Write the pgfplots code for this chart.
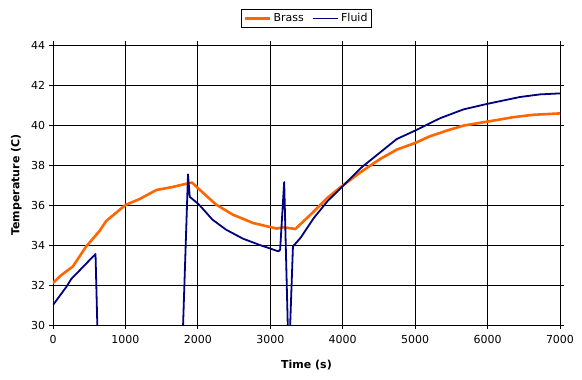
\documentclass[border=0pt]{standalone}
\usepackage{pgfplots}
\pgfplotsset{compat=1.18}
\usepackage{fontspec}
\setmainfont{DejaVu Sans}
\definecolor{brass}{RGB}{255,102,0}
\definecolor{fluid}{RGB}{0,0,128}
\begin{document}
\fontsize{11bp}{13bp}\selectfont
\begin{tikzpicture}
\path[use as bounding box] (-53bp,-55bp) rectangle (529bp,325bp);
\begin{axis}[
 at={(0,0)}, anchor=south west,
 scale only axis, width=507bp, height=280bp,
 xmin=0,xmax=7000,ymin=30,ymax=44,
 xtick={0,1000,...,7000}, ytick={30,32,...,44},
 grid=major, major grid style={black, line width=0.8bp},
 axis line style={black,line width=0.8bp},
 tick style={black, line width=0.8bp}, tick align=outside, major tick length=4bp,
 /pgf/number format/assume math mode=true,
 /pgf/number format/1000 sep={},
 ticklabel style={font=\fontsize{11bp}{13bp}\selectfont},
 xticklabel style={yshift=-2bp},
 xlabel={Time (s)}, ylabel={Temperature (C)},
 label style={font=\fontsize{11bp}{13bp}\selectfont\bfseries},
 xlabel style={yshift=-9bp},
 ylabel style={yshift=2bp},
 legend style={at={(0.5,1)}, anchor=south, yshift=17bp, legend columns=2, draw=black, line width=1bp,
   font=\fontsize{11bp}{13bp}\selectfont, inner sep=2bp,
   /tikz/every even column/.append style={column sep=6bp}},
 legend image code/.code={\draw[#1] (0cm,0cm) -- (0.9cm,0cm);},
 legend cell align=left,
]
\addplot[brass, line width=2.6bp, line join=round] coordinates {
(0,32.1) (100,32.45) (275,32.93) (459,33.93) (642,34.7) (734,35.2) (1000,36.0)
(1197,36.3) (1427,36.75) (1651,36.9) (1835,37.06) (1921,37.12) (2014,36.8)
(2248,36.03) (2481,35.52) (2762,35.1) (3089,34.82) (3182,34.89) (3346,34.8)
(3556,35.52) (3790,36.36) (3977,36.91) (4250,37.65) (4517,38.3) (4747,38.77)
(5000,39.1) (5207,39.44) (5437,39.72) (5667,39.97) (6000,40.17) (6356,40.39)
(6632,40.51) (7000,40.58)
};
\addlegendentry{Brass}
\addplot[fluid, line width=1.8bp, line join=round] coordinates {
(0,31.0) (183,31.9) (252,32.3) (413,32.9) (587,33.55) (640,26) (1760,26)
(1864,37.53) (1888,36.41) (2014,36.03) (2201,35.27) (2388,34.77) (2621,34.32)
(2855,34.0) (3042,33.77) (3112,33.68) (3136,33.77) (3192,37.15) (3255,28)
(3313,33.93) (3416,34.35) (3603,35.36) (3790,36.19) (3977,36.86) (4250,37.85)
(4517,38.63) (4747,39.3) (5000,39.72) (5345,40.34) (5667,40.78) (6000,41.06)
(6448,41.4) (6724,41.53) (7000,41.58)
};
\addlegendentry{Fluid}
\end{axis}
\end{tikzpicture}
\end{document}
